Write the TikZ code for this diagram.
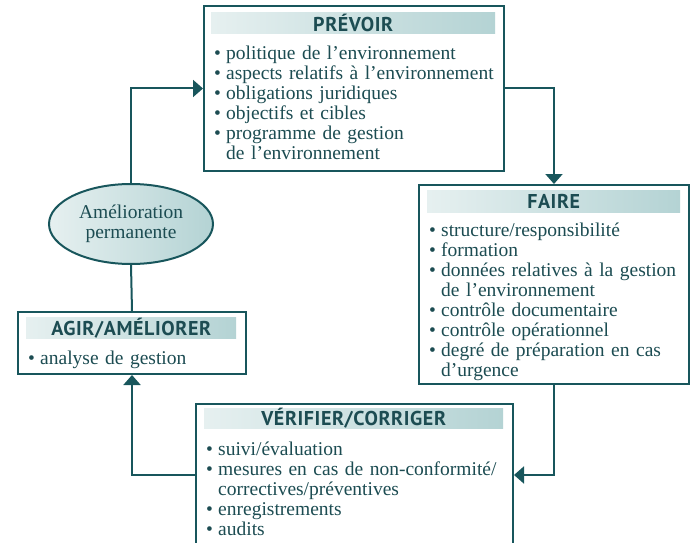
\documentclass[tikz,border=0pt]{standalone}
\usepackage{fontspec}
\setmainfont{Liberation Serif}
\newfontfamily\titrefont[LetterSpace=3]{PT Sans}
\usetikzlibrary{arrows.meta,shapes.geometric}
\definecolor{sarcelle}{RGB}{24,86,92}
\definecolor{texte}{RGB}{28,76,82}
\definecolor{fondG}{RGB}{230,240,240}
\definecolor{fondD}{RGB}{180,211,212}
\newcommand{\puce}[1]{\hangindent=12pt\hangafter=1\noindent\strut\makebox[12pt][l]{\textbullet}#1\strut\par}
\tikzset{
	cadre/.style={draw=sarcelle, line width=2pt, fill=white, inner sep=0pt, anchor=north west},
	bandeau/.style={left color=fondG, right color=fondD, inner sep=0pt, anchor=north west, text=texte, font=\titrefont\bfseries\fontsize{20}{20}\selectfont},
	liste/.style={text width=#1, inner sep=0pt, anchor=north west, text=texte, align=left, font=\fontsize{19.5}{20}\selectfont},
	lien/.style={draw=sarcelle, line width=2pt},
	fleche/.style={lien, -{Triangle[length=10pt,width=17pt]}}
}
\begin{document}
\begin{tikzpicture}[x=1pt,y=-1pt]
		\useasboundingbox (0,0) rectangle (691,543);
		\clip (0,0) rectangle (691,543);
		\node[cadre, minimum width=300pt, minimum height=165pt] (prevoir) at (203,5) {};
		\node[bandeau, minimum width=284pt, minimum height=21pt] (prevoirT) at (211,12) {PRÉVOIR};
		\node[liste=285pt] (prevoirL) at (214,45) {\puce{politique de l'environnement}\puce{aspects relatifs à l'environnement}\puce{obligations juridiques}\puce{objectifs et cibles}\puce{programme de gestion\newline de l'environnement}};
		\node[cadre, minimum width=270pt, minimum height=199pt] (faire) at (418,184) {};
		\node[bandeau, minimum width=253pt, minimum height=22pt] (faireT) at (427,190) {FAIRE};
		\node[liste=265pt] (faireL) at (429,222) {\puce{structure/responsibilité}\puce{formation}\puce{données relatives à la gestion\newline de l'environnement}\puce{contrôle documentaire}\puce{contrôle opérationnel}\puce{degré de préparation en cas\newline d'urgence}};
		\node[cadre, minimum width=228pt, minimum height=62pt] (agir) at (17,311) {};
		\node[bandeau, minimum width=210pt, minimum height=21pt] (agirT) at (26,317) {AGIR/AMÉLIORER};
		\node[liste=210pt] (agirL) at (28,350) {\puce{analyse de gestion}};
		\node[cadre, minimum width=317pt, minimum height=142pt] (verifier) at (195,403) {};
		\node[bandeau, minimum width=299pt, minimum height=20pt] (verifierT) at (204,408) {VÉRIFIER/CORRIGER};
		\node[liste=305pt] (verifierL) at (206,441) {\puce{suivi/évaluation}\puce{mesures en cas de non-conformité/\newline correctives/préventives}\puce{enregistrements}\puce{audits}};
		\node[ellipse, draw=sarcelle, line width=2pt, left color=fondG, right color=fondD, minimum width=164pt, minimum height=80pt, inner sep=0pt, align=center, text=texte, font=\fontsize{19.5}{20}\selectfont] (amelioration) at (131,224) {Amélioration\\permanente};
		\draw[lien] (amelioration.south) -- (agir.north);
		\draw[fleche] (amelioration.north) |- (prevoir.west);
		\draw[fleche] (prevoir.east) -| (faire.north);
		\draw[fleche] (faire.south) |- (verifier.east);
		\draw[fleche] (verifier.west) -| (agir.south);
	\end{tikzpicture}
\end{document}
